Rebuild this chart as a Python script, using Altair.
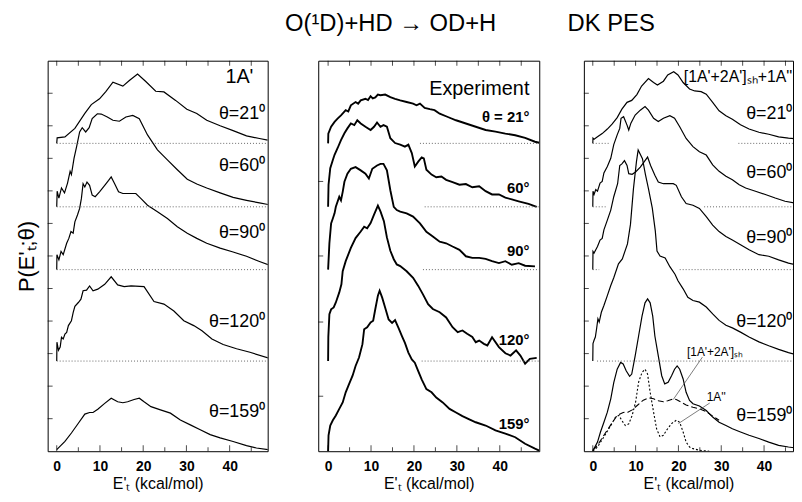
import altair as alt
import pandas as pd

FONT = "Liberation Sans"

# ---------------- shared layout values (data units) ----------------
Y_TOP = 12.0
BASE21, BASE60, BASE90, BASE120, BASE159 = 9.46, 7.51, 5.58, 2.77, 0.0
X_LABELS = [0, 10, 20, 30, 40]
X_MINOR = [5, 15, 25, 35, 45]
X_TOP = [0, 5, 10, 15, 20, 25, 30, 35, 40, 45]

# ---------------- panel 1 : 1A' ----------------
A1_21_E = [0, 0.1, 1.9, 4.2, 6.5, 8.0, 9.9, 11.4, 13.0, 15.3, 16.8, 18.7, 20.6, 22.9, 24.8, 27.5, 30.1, 32.4, 34.7, 37.8, 40.8, 43.9, 46.9, 48.8]
A1_21_P = [0, 0.17, 0.2, 0.46, 0.92, 1.19, 1.37, 1.6, 1.88, 1.76, 1.93, 2.13, 1.9, 1.6, 1.58, 1.32, 1.05, 0.92, 0.71, 0.54, 0.39, 0.23, 0.15, 0.1]
A1_60_E = [0, 0.1, 0.5, 1.1, 1.8, 2.5, 3.1, 3.4, 4.0, 4.6, 5.3, 5.9, 6.7, 7.5, 8.2, 9.4, 10.3, 11.7, 13.0, 14.5, 16.0, 17.6, 19.1, 21.0, 23.3, 25.6, 27.9, 30.2, 32.4, 34.7, 37.8, 40.8, 43.9, 46.9, 48.9]
A1_60_P = [0, 0.48, 0.27, 0.58, 0.43, 0.73, 1.09, 0.99, 1.49, 1.85, 2.3, 2.43, 2.3, 2.43, 2.71, 2.86, 2.85, 2.76, 2.66, 2.63, 2.76, 2.81, 2.71, 2.21, 1.75, 1.44, 1.14, 0.85, 0.7, 0.58, 0.43, 0.29, 0.2, 0.12, 0.07]
A1_90_E = [0, 0.05, 0.5, 1.0, 1.5, 2.3, 2.8, 3.3, 3.8, 4.2, 4.8, 5.3, 5.7, 6.1, 6.5, 7.0, 7.6, 8.2, 8.9, 9.9, 11.1, 12.0, 12.6, 13.4, 14.3, 15.3, 16.4, 18.3, 19.5, 21.0, 23.3, 25.6, 27.9, 30.2, 32.4, 34.7, 37.8, 40.8, 43.9, 46.9, 48.9]
A1_90_P = [0, 0.46, 0.3, 0.56, 0.46, 0.81, 0.96, 1.17, 1.12, 1.47, 1.68, 1.88, 2.18, 2.64, 2.54, 2.69, 2.59, 2.29, 2.24, 2.39, 2.59, 2.74, 2.85, 2.64, 2.39, 2.34, 2.34, 2.34, 2.18, 1.98, 1.78, 1.57, 1.32, 1.12, 0.96, 0.81, 0.66, 0.54, 0.41, 0.25, 0.15]
A1_120_E = [0, 0.05, 0.4, 0.8, 1.1, 1.5, 1.9, 2.3, 2.7, 3.4, 3.8, 4.2, 5.0, 5.6, 6.1, 6.9, 7.6, 8.4, 9.5, 11.1, 12.6, 14.1, 15.6, 17.2, 20.2, 22.5, 24.8, 27.1, 29.4, 31.7, 33.6, 35.9, 38.5, 41.6, 44.7, 48.9]
A1_120_P = [0, 0.58, 0.33, 0.43, 0.73, 0.68, 0.83, 0.88, 1.09, 1.24, 1.49, 1.68, 1.8, 1.9, 2.16, 2.18, 2.31, 2.16, 2.21, 2.36, 2.59, 2.34, 2.29, 2.31, 2.29, 1.83, 1.75, 1.54, 1.24, 1.09, 0.93, 0.68, 0.51, 0.38, 0.27, 0.1]
A1_159_E = [0, 1.9, 3.4, 5.0, 6.5, 7.6, 8.4, 9.5, 11.1, 12.6, 14.1, 15.3, 16.4, 17.9, 19.1, 20.2, 21.8, 24.0, 26.3, 28.6, 30.9, 33.2, 35.5, 37.8, 40.8, 43.9, 46.2, 48.9]
A1_159_P = [0.05, 0.3, 0.56, 0.86, 1.14, 1.19, 1.19, 1.29, 1.47, 1.63, 1.52, 1.49, 1.52, 1.59, 1.63, 1.52, 1.37, 1.27, 1.17, 0.96, 0.81, 0.66, 0.51, 0.41, 0.3, 0.17, 0.1, 0.05]

# ---------------- panel 2 : Experiment ----------------
EX_21_E = [0, 0.05, 0.7, 1.5, 2.2, 3.0, 4.1, 4.7, 5.3, 6.4, 7.0, 7.6, 8.7, 9.3, 9.9, 10.4, 11.0, 11.6, 12.2, 13.3, 14.5, 15.6, 16.8, 18.3, 19.8, 20.6, 21.4, 22.5, 23.7, 24.8, 26.0, 27.9, 29.8, 32.1, 34.4, 36.7, 39.0, 41.3, 43.6, 45.9, 48.2, 49.2]
EX_21_P = [0, 0.3, 0.51, 0.66, 0.76, 0.86, 1.02, 0.98, 1.17, 1.27, 1.22, 1.32, 1.37, 1.33, 1.45, 1.38, 1.41, 1.5, 1.48, 1.5, 1.42, 1.37, 1.32, 1.27, 1.22, 1.17, 1.22, 1.09, 1.05, 1.02, 0.91, 0.81, 0.71, 0.61, 0.51, 0.41, 0.36, 0.3, 0.25, 0.17, 0.05, 0.02]
EX_60_E = [0, 0.1, 0.5, 1.1, 1.5, 2.2, 3.0, 3.8, 4.5, 5.3, 6.1, 6.8, 7.6, 8.7, 9.9, 10.7, 11.4, 12.2, 12.9, 13.7, 14.5, 15.6, 16.8, 17.9, 18.7, 19.5, 20.2, 21.0, 21.8, 22.3, 22.9, 24.1, 25.2, 26.4, 27.5, 29.0, 30.6, 32.1, 33.6, 35.2, 36.7, 38.2, 39.8, 41.3, 42.8, 44.4, 46.7, 48.6]
EX_60_P = [0, 0.68, 1.19, 1.44, 1.6, 1.8, 2.05, 2.26, 2.41, 2.56, 2.51, 2.66, 2.56, 2.46, 2.36, 2.46, 2.59, 2.46, 2.51, 2.46, 2.11, 1.96, 1.91, 1.85, 1.91, 1.65, 1.24, 1.39, 1.52, 1.49, 1.14, 0.99, 0.91, 0.93, 0.83, 0.76, 0.68, 0.7, 0.6, 0.63, 0.48, 0.38, 0.38, 0.28, 0.23, 0.17, 0.09, 0.0]
EX_90_E = [0, 0.3, 0.7, 1.1, 1.5, 1.8, 2.6, 3.0, 3.4, 3.8, 4.5, 5.3, 6.4, 7.6, 8.7, 9.5, 10.3, 11.4, 12.2, 12.9, 13.7, 14.5, 15.3, 16.0, 16.8, 18.3, 19.8, 21.4, 22.9, 24.4, 26.0, 27.5, 29.0, 30.6, 32.1, 33.6, 35.2, 36.7, 38.2, 39.8, 41.3, 42.8, 44.4, 45.9, 48.2]
EX_90_P = [0, 0.81, 1.42, 1.57, 1.73, 1.93, 2.24, 2.13, 2.39, 2.7, 2.95, 3.1, 3.15, 3.05, 2.95, 2.8, 3.1, 3.2, 3.25, 3.25, 3.05, 2.44, 1.93, 1.83, 1.78, 1.73, 1.63, 1.42, 1.16, 1.02, 0.86, 0.81, 0.71, 0.61, 0.41, 0.36, 0.36, 0.33, 0.26, 0.2, 0.26, 0.15, 0.2, 0.12, 0.1]
EX_120_E = [0, 0.05, 0.3, 0.7, 1.3, 1.8, 2.6, 3.1, 3.4, 4.1, 5.3, 6.4, 7.6, 8.4, 9.1, 9.9, 10.7, 11.6, 12.2, 13.0, 13.7, 14.5, 15.3, 16.0, 16.8, 18.3, 19.8, 21.0, 22.1, 23.3, 24.4, 26.0, 27.5, 29.0, 30.2, 31.3, 32.4, 33.6, 34.4, 35.2, 36.3, 37.1, 38.2, 39.8, 41.3, 42.5, 43.8, 44.8, 45.9, 47.0, 48.6]
EX_120_P = [0, 0.74, 1.44, 1.59, 1.65, 1.8, 2.11, 2.36, 2.76, 3.07, 3.48, 3.78, 3.98, 4.13, 4.08, 4.24, 4.5, 4.78, 4.6, 4.3, 3.8, 3.39, 3.13, 2.97, 2.92, 2.76, 2.56, 2.31, 2.05, 1.75, 1.6, 1.5, 1.34, 1.04, 0.89, 0.94, 0.84, 0.74, 0.58, 0.63, 0.53, 0.48, 0.73, 0.43, 0.24, 0.17, 0.33, 0.17, -0.08, 0.07, 0.1]
EX_159_E = [0, 0.1, 0.5, 1.1, 1.8, 2.6, 3.4, 4.1, 4.9, 5.7, 6.4, 7.2, 8.0, 8.4, 9.1, 9.9, 10.5, 11.0, 11.6, 12.0, 12.6, 13.3, 14.1, 14.9, 15.6, 16.4, 17.2, 17.9, 18.7, 19.5, 20.2, 21.0, 21.8, 22.9, 24.1, 25.2, 26.7, 28.3, 29.8, 31.3, 32.9, 34.4, 36.7, 39.0, 41.3, 43.6, 45.9, 48.2, 49.2]
EX_159_P = [0, 0.49, 0.79, 0.95, 1.1, 1.3, 1.5, 1.81, 2.07, 2.32, 2.62, 2.88, 3.29, 3.75, 3.81, 3.96, 4.01, 4.37, 4.78, 4.93, 4.72, 4.41, 4.05, 3.94, 4.03, 3.79, 3.54, 3.33, 3.03, 2.82, 2.72, 2.46, 2.21, 1.91, 1.81, 1.65, 1.5, 1.3, 1.19, 1.08, 0.98, 0.89, 0.79, 0.64, 0.54, 0.43, 0.23, 0.08, 0.02]

# ---------------- panel 3 : [1A'+2A']sh + 1A'' ----------------
C_21_E = [0, 0.05, 0.3, 1.1, 2.2, 3.4, 4.5, 5.7, 6.8, 8.0, 9.1, 10.3, 11.4, 13.0, 14.2, 15.1, 16.5, 17.5, 18.9, 19.9, 21.1, 22.6, 23.8, 25.3, 26.5, 28.0, 29.5, 31.1, 32.6, 34.5, 36.5, 38.8, 41.1, 43.4, 45.7, 48.4]
C_21_P = [0, 0.16, 0.13, 0.2, 0.3, 0.44, 0.59, 0.79, 1.05, 1.26, 1.32, 1.5, 1.76, 1.99, 1.87, 1.79, 1.91, 2.1, 2.2, 2.1, 1.87, 1.67, 1.61, 1.59, 1.51, 1.26, 1.0, 0.85, 0.74, 0.57, 0.44, 0.34, 0.28, 0.2, 0.16, 0.13]
C_60_E = [0, 0.05, 0.3, 0.7, 1.1, 1.7, 2.2, 2.6, 3.4, 4.2, 4.9, 5.7, 6.3, 6.6, 7.2, 8.0, 8.4, 8.9, 9.9, 11.1, 12.2, 13.0, 14.2, 15.3, 16.5, 18.0, 19.1, 20.3, 21.8, 23.4, 24.9, 26.5, 28.0, 29.5, 31.1, 32.6, 34.2, 35.7, 38.0, 40.3, 42.6, 44.9, 48.4]
C_60_P = [0, 0.48, 0.38, 0.53, 0.48, 0.73, 0.78, 1.04, 1.24, 1.49, 1.91, 2.21, 2.41, 2.72, 2.77, 2.51, 2.36, 2.57, 2.82, 2.97, 3.08, 2.97, 2.72, 2.62, 2.72, 2.8, 2.72, 2.46, 2.1, 1.85, 1.69, 1.59, 1.29, 1.09, 0.94, 0.83, 0.68, 0.58, 0.48, 0.38, 0.27, 0.17, 0.09]
C_90_E = [0, 0.05, 0.3, 0.7, 1.1, 1.7, 2.2, 2.6, 3.4, 4.2, 4.9, 5.8, 6.3, 6.8, 7.4, 8.0, 8.4, 9.2, 10.0, 11.1, 12.2, 12.8, 13.5, 14.5, 15.3, 16.5, 18.8, 19.5, 20.7, 21.8, 23.4, 24.9, 26.5, 28.0, 29.5, 31.1, 32.6, 34.6, 36.5, 38.8, 41.1, 43.4, 45.7, 48.4]
C_90_P = [0, 0.56, 0.51, 0.61, 0.71, 0.91, 0.96, 1.22, 1.52, 1.83, 2.24, 2.64, 3.2, 3.25, 3.35, 3.2, 2.95, 2.93, 3.0, 3.15, 3.35, 3.46, 3.2, 2.9, 2.69, 2.64, 2.64, 2.59, 2.24, 2.03, 1.98, 1.88, 1.63, 1.37, 1.17, 1.02, 0.91, 0.76, 0.61, 0.46, 0.41, 0.3, 0.2, 0.12]
C_120_E = [0, 0.05, 0.3, 0.6, 0.9, 1.2, 1.5, 2.0, 2.6, 3.4, 4.2, 4.9, 6.0, 6.9, 8.1, 8.8, 9.5, 10.2, 10.6, 11.6, 12.3, 13.0, 13.9, 14.6, 15.0, 15.7, 16.9, 18.0, 19.2, 19.9, 21.1, 22.2, 23.4, 24.9, 26.5, 28.0, 29.5, 31.1, 32.6, 34.5, 36.5, 38.8, 41.1, 43.4, 45.7, 48.4]
C_120_P = [0, 0.54, 0.64, 0.74, 1.0, 1.3, 1.2, 1.5, 1.71, 2.01, 2.32, 2.56, 2.99, 3.14, 3.6, 4.2, 5.3, 6.13, 6.49, 6.22, 5.73, 5.3, 4.7, 4.0, 3.38, 3.23, 3.17, 2.9, 2.67, 2.47, 2.22, 1.96, 1.86, 1.81, 1.66, 1.45, 1.25, 1.1, 1.02, 0.89, 0.74, 0.59, 0.47, 0.36, 0.26, 0.16]
C_159_E = [0, 0.3, 1.1, 1.8, 2.6, 3.4, 4.2, 4.9, 5.7, 6.5, 7.1, 7.8, 8.6, 9.1, 9.9, 10.7, 11.5, 12.2, 12.8, 13.4, 14.0, 14.5, 15.3, 16.1, 16.8, 17.6, 18.4, 19.1, 19.7, 20.3, 21.1, 21.8, 22.6, 23.4, 24.9, 26.5, 28.0, 29.5, 31.1, 32.6, 34.5, 36.5, 38.8, 41.1, 43.4, 45.7, 48.4]
C_159_P = [0, 0.08, 0.28, 0.59, 0.89, 1.2, 1.61, 2.11, 2.52, 2.73, 2.68, 2.47, 2.3, 2.37, 2.93, 3.54, 4.15, 4.56, 4.68, 4.56, 4.15, 3.54, 2.93, 2.32, 2.07, 2.12, 2.32, 2.52, 2.62, 2.52, 2.22, 1.81, 1.56, 1.46, 1.39, 1.25, 1.05, 0.89, 0.79, 0.69, 0.59, 0.49, 0.39, 0.28, 0.18, 0.13, 0.08]
SH_159_E = [0, 1.1, 2.6, 4.2, 5.7, 7.1, 8.2, 9.2, 10.5, 11.8, 13.0, 14.2, 15.3, 16.5, 17.5, 18.8, 19.5, 20.7, 21.8, 23.4, 24.9, 26.5, 28.0, 29.5]
SH_159_P = [0.03, 0.18, 0.49, 0.81, 1.1, 1.19, 1.2, 1.27, 1.42, 1.57, 1.64, 1.61, 1.55, 1.52, 1.55, 1.61, 1.59, 1.5, 1.42, 1.35, 1.3, 1.22, 1.08, 0.95]
APP_159_E = [0, 1.1, 2.6, 4.2, 5.3, 6.1, 6.8, 7.6, 8.4, 9.2, 10.0, 10.7, 11.5, 12.2, 12.8, 13.4, 14.2, 14.9, 15.7, 16.5, 17.2, 18.4, 19.5, 20.3, 21.1, 21.8, 22.6, 23.4, 24.9, 27.2]
APP_159_P = [0, 0.13, 0.44, 0.79, 1.05, 1.1, 0.94, 0.79, 0.84, 1.1, 1.51, 2.12, 2.42, 2.52, 2.37, 1.81, 1.2, 0.69, 0.44, 0.49, 0.64, 0.85, 0.95, 0.89, 0.59, 0.28, 0.13, 0.08, 0.03, 0.0]

# ---------------- dotted baselines ----------------
P1_SEG_X0 = [0, 0, 0, 0]
P1_SEG_X1 = [48.8, 48.8, 48.8, 48.8]
P1_SEG_Y = [BASE21, BASE60, BASE90, BASE120]
P2_SEG_X0 = [21.4, 22.5, 22.1, 21.8]
P2_SEG_X1 = [49.2, 49.2, 49.2, 49.2]
P2_SEG_Y = [BASE21, BASE60, BASE90, BASE120]
P3_SEG_X0 = [0, 34.0, 0, 26.0, 0, 20.3, 1.0]
P3_SEG_X1 = [4.0, 48.5, 3.0, 48.5, 1.5, 48.5, 48.5]
P3_SEG_Y = [BASE21, BASE21, BASE60, BASE60, BASE90, BASE90, BASE120]

# ---------------- labels ----------------
P1_HEAD = ["1A'"]
P1_HEAD_E = [45.5]
P1_HEAD_Y = [11.5]
P1_ANG = ["θ=21⁰", "θ=60⁰", "θ=90⁰", "θ=120⁰", "θ=159⁰"]
P1_ANG_E = [48.2, 48.2, 48.2, 48.2, 48.2]
P1_ANG_Y = [10.37, 8.75, 6.71, 3.96, 1.19]

P2_HEAD = ["Experiment"]
P2_HEAD_E = [46.9]
P2_HEAD_Y = [11.13]
P2_ANG = ["θ = 21°", "60°", "90°", "120°", "159°"]
P2_ANG_E = [46.9, 46.9, 46.9, 46.9, 46.9]
P2_ANG_Y = [10.27, 8.08, 6.16, 3.41, 0.82]

P3_HEAD = ["[1A'+2A']ₛₕ+1A''"]
P3_HEAD_E = [46.6]
P3_HEAD_Y = [11.5]
P3_ANG = ["θ=21⁰", "θ=60⁰", "θ=90⁰", "θ=120⁰", "θ=159⁰"]
P3_ANG_E = [46.6, 46.6, 46.6, 46.6, 46.6]
P3_ANG_Y = [10.37, 8.54, 6.55, 3.96, 1.07]
P3_NOTE = ["[1A'+2A']ₛₕ", "1A''"]
P3_NOTE_E = [22.0, 26.6]
P3_NOTE_Y = [3.05, 1.65]
P3_LEAD_E0 = [25.6, 27.3]
P3_LEAD_Y0 = [2.89, 1.48]
P3_LEAD_E1 = [18.8, 20.0]
P3_LEAD_Y1 = [1.59, 0.85]

P1_LEFT_TICKS = [1, 2, 3, 4, 5, 6, 7, 8, 9, 10, 11]
P2_LEFT_TICKS = [1.69, 3.97, 6.0, 8.29]
P3_LEFT_TICKS = [1, 2, 3, 4, 5, 6, 7, 8, 9, 10, 11]


def curves(specs):
    frames = []
    for name, E, P, base in specs:
        frames.append(pd.DataFrame({"curve": name, "E": E, "y": [base + p for p in P]}))
    return pd.concat(frames, ignore_index=True)


def texts(t, e, y):
    return pd.DataFrame({"t": t, "E": e, "y": y})


X_AXIS = alt.Axis(values=X_LABELS, title="E'ₜ (kcal/mol)", grid=False, ticks=False,
                  domain=False, labelFontSize=14, labelFontWeight="bold", labelFont=FONT,
                  labelColor="black", labelPadding=8, labelFlush=False, titleFont=FONT,
                  titleFontSize=16, titleFontWeight="normal", titleColor="black", titlePadding=3)


def panel(xdom, width, line_df, stroke, seg, left_ticks, y_axis, label_specs, extra_fn=None):
    xs = alt.Scale(domain=xdom, nice=False, zero=False)
    ys = alt.Scale(domain=[0, Y_TOP], nice=False, zero=False)
    # identical axis definitions on every layer so that they merge into one shared axis
    X = lambda f: alt.X(f, scale=xs, axis=X_AXIS)
    Y = lambda f: alt.Y(f, scale=ys, axis=y_axis)

    layers = []
    layers.append(alt.Chart(line_df).mark_line(color="black", strokeWidth=stroke, clip=True).encode(
        x=X("E:Q"), y=Y("y:Q"), detail="curve:N"))
    seg_df = pd.DataFrame({"x0": seg[0], "x1": seg[1], "y": seg[2]})
    layers.append(alt.Chart(seg_df).mark_rule(color="#666", strokeDash=[1, 2], strokeWidth=1, clip=True).encode(
        x=X("x0:Q"), x2="x1:Q", y=Y("y:Q")))
    if extra_fn is not None:
        layers.extend(extra_fn(X, Y))
    # frame ticks (pointing inward)
    layers.append(alt.Chart(pd.DataFrame({"E": X_LABELS, "y": 0.0})).mark_tick(
        orient="vertical", size=6, thickness=1, color="black", yOffset=-3).encode(x=X("E:Q"), y=Y("y:Q")))
    layers.append(alt.Chart(pd.DataFrame({"E": X_MINOR, "y": 0.0})).mark_tick(
        orient="vertical", size=4, thickness=1, color="black", yOffset=-2).encode(x=X("E:Q"), y=Y("y:Q")))
    layers.append(alt.Chart(pd.DataFrame({"E": X_TOP, "y": Y_TOP})).mark_tick(
        orient="vertical", size=5, thickness=1, color="black", yOffset=2.5).encode(x=X("E:Q"), y=Y("y:Q")))
    layers.append(alt.Chart(pd.DataFrame({"E": xdom[0], "y": left_ticks})).mark_tick(
        orient="horizontal", size=5, thickness=1, color="black", xOffset=2.5).encode(x=X("E:Q"), y=Y("y:Q")))
    for df, size, weight in label_specs:
        layers.append(alt.Chart(df).mark_text(align="right", baseline="middle", font=FONT,
                                              fontSize=size, fontWeight=weight, color="black").encode(
            x=X("E:Q"), y=Y("y:Q"), text="t:N"))
    return alt.layer(*layers).properties(width=width, height=394)


# ---- panel 1
p1_lines = curves([("21", A1_21_E, A1_21_P, BASE21), ("60", A1_60_E, A1_60_P, BASE60),
                   ("90", A1_90_E, A1_90_P, BASE90), ("120", A1_120_E, A1_120_P, BASE120),
                   ("159", A1_159_E, A1_159_P, BASE159)])
y_axis1 = alt.Axis(title="P(E'ₜ;θ)", labels=False, ticks=False, domain=False, grid=False,
                   titleFont=FONT, titleFontSize=22, titleFontWeight="normal", titleColor="black",
                   titlePadding=9)
p1 = panel([-2.1, 48.8], 222, p1_lines, 1.2, (P1_SEG_X0, P1_SEG_X1, P1_SEG_Y), P1_LEFT_TICKS, y_axis1,
           [(texts(P1_HEAD, P1_HEAD_E, P1_HEAD_Y), 20, "normal"),
            (texts(P1_ANG, P1_ANG_E, P1_ANG_Y), 18, "normal")])

# ---- panel 2
p2_lines = curves([("21", EX_21_E, EX_21_P, BASE21), ("60", EX_60_E, EX_60_P, BASE60),
                   ("90", EX_90_E, EX_90_P, BASE90), ("120", EX_120_E, EX_120_P, BASE120),
                   ("159", EX_159_E, EX_159_P, BASE159)])
p2 = panel([-2.3, 49.2], 223, p2_lines, 1.9, (P2_SEG_X0, P2_SEG_X1, P2_SEG_Y), P2_LEFT_TICKS, None,
           [(texts(P2_HEAD, P2_HEAD_E, P2_HEAD_Y), 20, "normal"),
            (texts(P2_ANG, P2_ANG_E, P2_ANG_Y), 15, "bold")])

# ---- panel 3
p3_lines = curves([("21", C_21_E, C_21_P, BASE21), ("60", C_60_E, C_60_P, BASE60),
                   ("90", C_90_E, C_90_P, BASE90), ("120", C_120_E, C_120_P, BASE120),
                   ("159", C_159_E, C_159_P, BASE159)])


def p3_extra(X, Y):
    sh = curves([("sh", SH_159_E, SH_159_P, BASE159)])
    app = curves([("app", APP_159_E, APP_159_P, BASE159)])
    lead = pd.DataFrame({"e0": P3_LEAD_E0, "y0": P3_LEAD_Y0, "e1": P3_LEAD_E1, "y1": P3_LEAD_Y1})
    notes = texts(P3_NOTE, P3_NOTE_E, P3_NOTE_Y)
    return [
        alt.Chart(sh).mark_line(color="black", strokeWidth=1.1, strokeDash=[6, 3], clip=True).encode(
            x=X("E:Q"), y=Y("y:Q")),
        alt.Chart(app).mark_line(color="black", strokeWidth=1.1, strokeDash=[2, 2], clip=True).encode(
            x=X("E:Q"), y=Y("y:Q")),
        alt.Chart(lead).mark_rule(color="#444", strokeWidth=0.7).encode(
            x=X("e0:Q"), y=Y("y0:Q"), x2="e1:Q", y2="y1:Q"),
        alt.Chart(notes).mark_text(align="left", baseline="middle", font=FONT, fontSize=12,
                                   color="black").encode(x=X("E:Q"), y=Y("y:Q"), text="t:N"),
    ]


p3 = panel([-2.08, 46.76], 211, p3_lines, 1.2, (P3_SEG_X0, P3_SEG_X1, P3_SEG_Y), P3_LEFT_TICKS, None,
           [(texts(P3_HEAD, P3_HEAD_E, P3_HEAD_Y), 16, "normal"),
            (texts(P3_ANG, P3_ANG_E, P3_ANG_Y), 18, "normal")],
           extra_fn=p3_extra)

chart = alt.hconcat(alt.hconcat(p1, p2, spacing=49), p3, spacing=43).properties(
    title=alt.TitleParams(text="O(¹D)+HD → OD+H\u2003\u2003\u2003DK PES", font=FONT, fontSize=24,
                          fontWeight="normal", color="black", anchor="middle", dx=66, offset=24),
    padding={"left": 7, "top": 2, "right": 0, "bottom": 0},
).configure_view(stroke="black", strokeWidth=1).configure_axis(grid=False)

chart.save("out.html", embed_options={"renderer": "svg", "actions": False})
